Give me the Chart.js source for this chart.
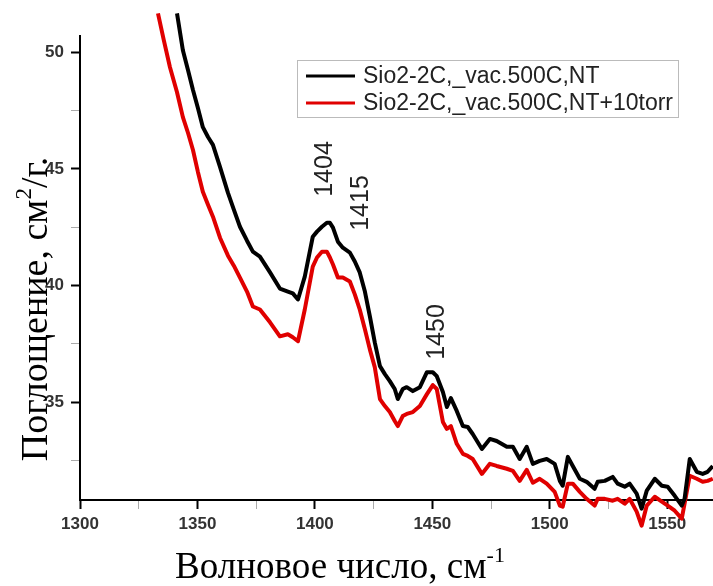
<!DOCTYPE html>
<html>
<head>
<meta charset="utf-8">
<script src="https://cdn.jsdelivr.net/npm/chart.js@4.4.1/dist/chart.umd.min.js"></script>
<style>
  html, body { margin: 0; padding: 0; background: #fff; }
</style>
</head>
<body>
<canvas id="spectrum" width="713" height="586"></canvas>
<script>
// wavenumber, cm-1
const wavenumbers = [1333.2, 1335.7, 1338.3,
  1341.3, 1343.8, 1346.0, 1348.1, 1350.2, 1352.3, 1354.5, 1356.6, 1359.6, 1363.0,
  1365.5, 1368.1, 1371.1, 1373.6, 1376.6, 1380.9, 1385.1, 1388.5, 1390.6, 1392.8,
  1395.7, 1399.1, 1400.9,
  1403.0, 1405.1, 1406.4, 1407.7, 1409.8, 1411.9, 1414.9, 1417.0, 1419.1, 1421.3,
  1423.4, 1425.5, 1427.7, 1429.8, 1431.9, 1434.0, 1435.3, 1437.4, 1439.1, 1441.7,
  1444.7, 1447.7, 1450.2, 1451.9, 1454.5, 1456.2, 1457.9, 1460.4, 1463.0, 1465.1,
  1467.2, 1471.1, 1474.5, 1477.4, 1481.7, 1484.3, 1487.2, 1490.2, 1492.8, 1495.7,
  1498.7, 1502.1, 1504.3, 1505.5, 1507.7, 1509.8, 1512.8, 1515.7, 1519.1, 1520.4,
  1523.4, 1526.8, 1528.9, 1531.9, 1534.0, 1537.0, 1539.1, 1541.3, 1544.7, 1547.7,
  1550.2, 1553.2, 1556.2, 1557.4, 1559.6, 1562.6, 1565.1, 1567.2, 1569.4];

// Sio2-2C,_vac.500C,NT
const absVacuum = [null, null, null,
  51.67, 50.09, 49.23, 48.38, 47.61, 46.79, 46.37, 46.03, 45.09, 43.97,
  43.25, 42.52, 41.92, 41.45, 41.24, 40.56, 39.87, 39.74, 39.66, 39.40,
  40.38, 42.09, 42.31,
  42.52, 42.69, 42.69, 42.48, 41.88, 41.62, 41.41, 41.03, 40.56, 39.74,
  38.68, 37.56, 36.54, 36.20, 35.90, 35.56, 35.13, 35.56, 35.64, 35.47,
  35.64, 36.28, 36.28, 36.11, 35.43, 34.79, 35.17, 34.62, 33.97, 33.93,
  33.63, 32.99, 33.42, 33.33, 33.08, 33.08, 32.56, 33.08, 32.35, 32.48,
  32.56, 32.35, 31.62, 31.41, 32.65, 32.26, 31.71, 31.58, 31.28, 31.58,
  31.62, 31.79, 31.50, 31.37, 31.50, 31.07, 30.43, 31.20, 31.71, 31.41,
  31.37, 30.98, 30.56, 30.85, 32.56, 32.01, 31.92, 32.01, 32.26];

// Sio2-2C,_vac.500C,NT+10torr
const absTorr = [51.67, 50.51, 49.36,
  48.29, 47.22, 46.54, 45.81, 44.87, 44.02, 43.46, 42.95, 42.05, 41.28,
  40.85, 40.34, 39.74, 39.10, 38.97, 38.42, 37.82, 37.91, 37.78, 37.61,
  38.97, 40.81, 41.20,
  41.45, 41.45, 41.20, 40.90, 40.34, 40.34, 40.17, 39.62, 38.97, 38.12,
  37.26, 36.50, 35.13, 34.83, 34.57, 34.19, 33.97, 34.40, 34.49, 34.57,
  34.83, 35.34, 35.73, 35.56, 34.15, 33.85, 33.97, 33.21, 32.78, 32.69,
  32.56, 31.92, 32.35, 32.26, 32.14, 32.05, 31.62, 32.09, 31.54, 31.71,
  31.50, 31.15, 30.56, 30.51, 31.50, 31.50, 31.15, 30.85, 30.56, 30.85,
  30.85, 30.77, 30.85, 30.64, 30.85, 30.30, 29.70, 30.56, 30.94, 30.73,
  30.56, 30.34, 30.00, 30.64, 31.84, 31.71, 31.58, 31.62, 31.71];

const seriesNames = ['Sio2-2C,_vac.500C,NT', 'Sio2-2C,_vac.500C,NT+10torr'];
const peakLabels = [1404, 1415, 1450];

const sans = 'Liberation Sans, Arial, sans-serif';
const serif = 'Liberation Serif, Times New Roman, serif';

function toPoints(values) {
  return wavenumbers.map((x, i) => ({ x: x, y: values[i] }));
}

// text with one raised part, centred on cx
function textWithSup(ctx, before, sup, after, cx, baseY, size) {
  ctx.font = size + 'px ' + serif;
  const w1 = ctx.measureText(before).width;
  const w3 = ctx.measureText(after).width;
  ctx.font = Math.round(size * 0.6) + 'px ' + serif;
  const w2 = ctx.measureText(sup).width;
  let x = cx - (w1 + w2 + w3) / 2;
  ctx.textAlign = 'left';
  ctx.textBaseline = 'alphabetic';
  ctx.font = size + 'px ' + serif;
  ctx.fillText(before, x, baseY);
  x += w1;
  ctx.font = Math.round(size * 0.6) + 'px ' + serif;
  ctx.fillText(sup, x, baseY - size * 0.42);
  x += w2;
  ctx.font = size + 'px ' + serif;
  ctx.fillText(after, x, baseY);
}

const decor = {
  id: 'decor',
  afterDraw(chart) {
    const ctx = chart.ctx;
    const xs = chart.scales.x;
    ctx.save();
    ctx.fillStyle = '#000';

    // axis titles
    textWithSup(ctx, 'Волновое число, см', '-1', '', 340, 578, 37);
    ctx.save();
    ctx.translate(47, 309);
    ctx.rotate(-Math.PI / 2);
    textWithSup(ctx, 'Поглощение, см', '2', '/г.', 0, 0, 38);
    ctx.restore();

    // peak labels
    const shift = [0, 10, 4];
    const yMid = [169, 203, 332];
    ctx.fillStyle = '#222';
    ctx.font = '25px ' + sans;
    ctx.textAlign = 'center';
    ctx.textBaseline = 'middle';
    peakLabels.forEach((p, i) => {
      ctx.save();
      ctx.translate(xs.getPixelForValue(p) + shift[i], yMid[i]);
      ctx.rotate(-Math.PI / 2);
      ctx.fillText(String(p), 0, 1);
      ctx.restore();
    });

    // legend
    ctx.fillStyle = '#fff';
    ctx.fillRect(297, 60, 381, 57);
    ctx.strokeStyle = '#bbb';
    ctx.lineWidth = 1;
    ctx.strokeRect(297.5, 60.5, 381, 57);
    chart.data.datasets.forEach((ds, i) => {
      const y = 76 + i * 27;
      ctx.strokeStyle = ds.borderColor;
      ctx.lineWidth = 3;
      ctx.beginPath();
      ctx.moveTo(306, y);
      ctx.lineTo(355, y);
      ctx.stroke();
      ctx.fillStyle = '#222';
      ctx.font = '23px ' + sans;
      ctx.textAlign = 'left';
      ctx.textBaseline = 'middle';
      ctx.fillText(ds.label, 363, y + 1);
    });
    ctx.restore();
  }
};

const ctx = document.getElementById('spectrum').getContext('2d');
new Chart(ctx, {
  type: 'line',
  data: {
    datasets: [
      { label: seriesNames[0], data: toPoints(absVacuum), borderColor: '#000000',
        borderWidth: 4, pointRadius: 0, tension: 0, clip: false, borderJoinStyle: 'round' },
      { label: seriesNames[1], data: toPoints(absTorr), borderColor: '#e00000',
        borderWidth: 4, pointRadius: 0, tension: 0, clip: false, borderJoinStyle: 'round' }
    ]
  },
  options: {
    responsive: false,
    animation: false,
    layout: { padding: { top: 36, right: 0, bottom: 0, left: 0 } },
    plugins: { legend: { display: false }, tooltip: { enabled: false } },
    scales: {
      x: {
        type: 'linear', min: 1300, max: 1569.5,
        ticks: {
          stepSize: 25, includeBounds: false, autoSkip: false, maxRotation: 0,
          padding: 5, color: '#333',
          font: { family: sans, size: 17, weight: 'bold' },
          callback: v => (v % 50 === 0 ? v : '')
        },
        grid: {
          drawOnChartArea: false, tickLength: 9,
          tickColor: c => (c.tick && c.tick.value % 50 === 0 ? '#000' : '#aaa'),
          tickWidth: c => (c.tick && c.tick.value % 50 === 0 ? 2 : 1)
        },
        border: { color: '#000', width: 2 },
        afterFit: s => { s.height = 86; }
      },
      y: {
        min: 30.8, max: 50.7,
        ticks: {
          stepSize: 2.5, includeBounds: false, padding: 7, color: '#333',
          font: { family: sans, size: 17, weight: 'bold' },
          callback: v => (v % 5 === 0 ? v : '')
        },
        grid: {
          drawOnChartArea: false, tickLength: 9,
          tickColor: c => (c.tick && c.tick.value % 5 === 0 ? '#000' : '#aaa'),
          tickWidth: c => (c.tick && c.tick.value % 5 === 0 ? 2 : 1)
        },
        border: { color: '#000', width: 2 },
        afterFit: s => { s.width = 80; }
      }
    }
  },
  plugins: [decor]
});
</script>
</body>
</html>
